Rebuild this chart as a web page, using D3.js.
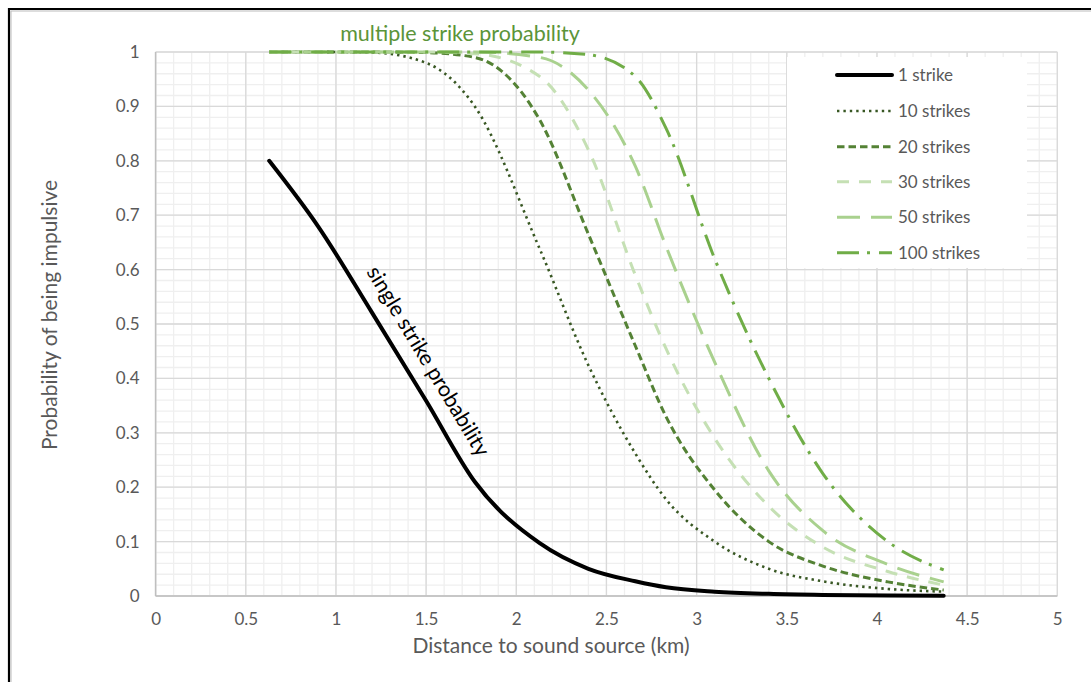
<!DOCTYPE html>
<html>
<head>
<meta charset="utf-8">
<script src="https://cdn.jsdelivr.net/npm/d3@7"></script>
<style>
  body { margin: 0; background: #fff; }
  svg { display: block; font-family: Lato, "Open Sans", sans-serif; }
</style>
</head>
<body>
<svg id="chart" width="1091" height="682"></svg>
<script>
// distances (km) shared by all curves
var distances = [0.63, 0.9, 1.2, 1.5, 1.77, 2.13, 2.4, 2.66, 2.83, 3.1, 3.4, 3.7, 4.06, 4.37];

var strikes1   = [0.80, 0.68, 0.521, 0.359, 0.21, 0.097, 0.05, 0.027, 0.016, 0.008, 0.004, 0.002, 0.001, 0.0005];
var strikes10  = [1.0, 1.0, 0.999, 0.98, 0.90, 0.638, 0.424, 0.262, 0.178, 0.10, 0.05, 0.027, 0.013, 0.008];
var strikes20  = [1.0, 1.0, 1.0, 0.999, 0.99, 0.875, 0.665, 0.46, 0.33, 0.195, 0.10, 0.055, 0.026, 0.011];
var strikes30  = [1.0, 1.0, 1.0, 1.0, 0.997, 0.955, 0.82, 0.59, 0.455, 0.29, 0.165, 0.09, 0.045, 0.02];
var strikes50  = [1.0, 1.0, 1.0, 1.0, 1.0, 0.99, 0.93, 0.79, 0.643, 0.43, 0.23, 0.12, 0.058, 0.026];
var strikes100 = [1.0, 1.0, 1.0, 1.0, 1.0, 1.0, 0.995, 0.955, 0.86, 0.62, 0.40, 0.225, 0.10, 0.048];

var seriesNames = ["1 strike", "10 strikes", "20 strikes", "30 strikes", "50 strikes", "100 strikes"];
var seriesValues = [strikes1, strikes10, strikes20, strikes30, strikes50, strikes100];

var xTicks = [0, 0.5, 1, 1.5, 2, 2.5, 3, 3.5, 4, 4.5, 5];
var yTicks = [0, 0.1, 0.2, 0.3, 0.4, 0.5, 0.6, 0.7, 0.8, 0.9, 1];

var styles = [
    { color: "#000000", width: 4,   dash: null },
    { color: "#385723", width: 2.6, dash: "2.4,4" },
    { color: "#548235", width: 3,   dash: "7.5,4" },
    { color: "#c5e0b4", width: 3,   dash: "12,10" },
    { color: "#a9d18e", width: 3,   dash: "23,11" },
    { color: "#70ad47", width: 3,   dash: "22,8,3,9" }
];

var svg = d3.select("#chart");

// outer frame
svg.append("path").attr("d", "M9,682 L9,9 L1091,9").attr("fill", "none")
    .attr("stroke", "#000").attr("stroke-width", 2.2);
svg.append("path").attr("d", "M11,682 L11,11 L1091,11").attr("fill", "none")
    .attr("stroke", "#bbb").attr("stroke-width", 1);

var x = d3.scaleLinear().domain([0, 5]).range([155.6, 1057.3]);
var y = d3.scaleLinear().domain([0, 1]).range([596, 52]);

var g = svg.append("g");

// minor grid
g.selectAll(".minorX").data(d3.range(0, 51).map(d => d / 10)).enter().append("line")
    .attr("x1", d => x(d)).attr("x2", d => x(d)).attr("y1", y(0)).attr("y2", y(1))
    .attr("stroke", "#efefef").attr("stroke-width", 1.3);
g.selectAll(".minorY").data(d3.range(0, 51).map(d => d / 50)).enter().append("line")
    .attr("y1", d => y(d)).attr("y2", d => y(d)).attr("x1", x(0)).attr("x2", x(5))
    .attr("stroke", "#efefef").attr("stroke-width", 1.3);
// major grid
g.selectAll(".majorX").data(xTicks).enter().append("line")
    .attr("x1", d => x(d)).attr("x2", d => x(d)).attr("y1", y(0)).attr("y2", y(1))
    .attr("stroke", "#d9d9d9").attr("stroke-width", 1.3);
g.selectAll(".majorY").data(yTicks).enter().append("line")
    .attr("y1", d => y(d)).attr("y2", d => y(d)).attr("x1", x(0)).attr("x2", x(5))
    .attr("stroke", "#d9d9d9").attr("stroke-width", 1.3);
// axis lines
g.append("line").attr("x1", x(0)).attr("x2", x(0)).attr("y1", y(0)).attr("y2", y(1))
    .attr("stroke", "#bfbfbf").attr("stroke-width", 1.5);
g.append("line").attr("x1", x(0)).attr("x2", x(5)).attr("y1", y(0)).attr("y2", y(0))
    .attr("stroke", "#bfbfbf").attr("stroke-width", 1.5);

// axes labels via d3 axes
var axisB = d3.axisBottom(x).tickValues(xTicks).tickSize(0).tickPadding(17).tickFormat(d3.format("~g"));
var axisL = d3.axisLeft(y).tickValues(yTicks).tickSize(0).tickPadding(16).tickFormat(d3.format("~g"));
var gb = g.append("g").attr("transform", "translate(0," + y(0) + ")").call(axisB);
var gl = g.append("g").attr("transform", "translate(" + x(0) + ",0)").call(axisL);
[gb, gl].forEach(function (a) {
    a.select(".domain").remove();
    a.selectAll("text").attr("fill", "#595959").style("font-size", "17px").style("font-family", "Lato, sans-serif");
});

// legend background
svg.append("rect").attr("x", 787).attr("y", 57).attr("width", 240).attr("height", 211).attr("fill", "#fff");

// curves
var line = d3.line().x(d => x(d[0])).y(d => y(d[1])).curve(d3.curveMonotoneX);
seriesValues.forEach(function (vals, i) {
    var pts = distances.map((dd, j) => [dd, vals[j]]);
    svg.append("path").datum(pts).attr("d", line)
        .attr("fill", "none")
        .attr("stroke", styles[i].color)
        .attr("stroke-width", styles[i].width)
        .attr("stroke-dasharray", styles[i].dash)
        .attr("stroke-linecap", i === 0 ? "round" : "butt")
        .attr("stroke-linejoin", "round");
});

// legend
var legendRows = [75, 111, 146.7, 181.7, 217.3, 252.7];
seriesNames.forEach(function (name, i) {
    svg.append("line").attr("x1", 837).attr("x2", 892).attr("y1", legendRows[i]).attr("y2", legendRows[i])
        .attr("stroke", styles[i].color).attr("stroke-width", styles[i].width)
        .attr("stroke-dasharray", styles[i].dash)
        .attr("stroke-linecap", i === 0 ? "round" : "butt");
    svg.append("text").attr("x", 898).attr("y", legendRows[i]).attr("dy", "0.35em")
        .attr("fill", "#595959").style("font-size", "17px").text(name);
});

// titles
svg.append("text").attr("x", 551).attr("y", 653).attr("text-anchor", "middle")
    .attr("fill", "#595959").style("font-size", "21px").text("Distance to sound source (km)");
svg.append("text").attr("transform", "translate(57,315) rotate(-90)").attr("text-anchor", "middle")
    .attr("fill", "#595959").style("font-size", "21px").text("Probability of being impulsive");
svg.append("text").attr("x", 460).attr("y", 41).attr("text-anchor", "middle")
    .attr("fill", "#5b9439").style("font-size", "21.5px").text("multiple strike probability");
svg.append("text").attr("transform", "translate(422,365) rotate(59)").attr("text-anchor", "middle")
    .attr("fill", "#000").style("font-size", "21.5px").text("single strike probability");
</script>
</body>
</html>
